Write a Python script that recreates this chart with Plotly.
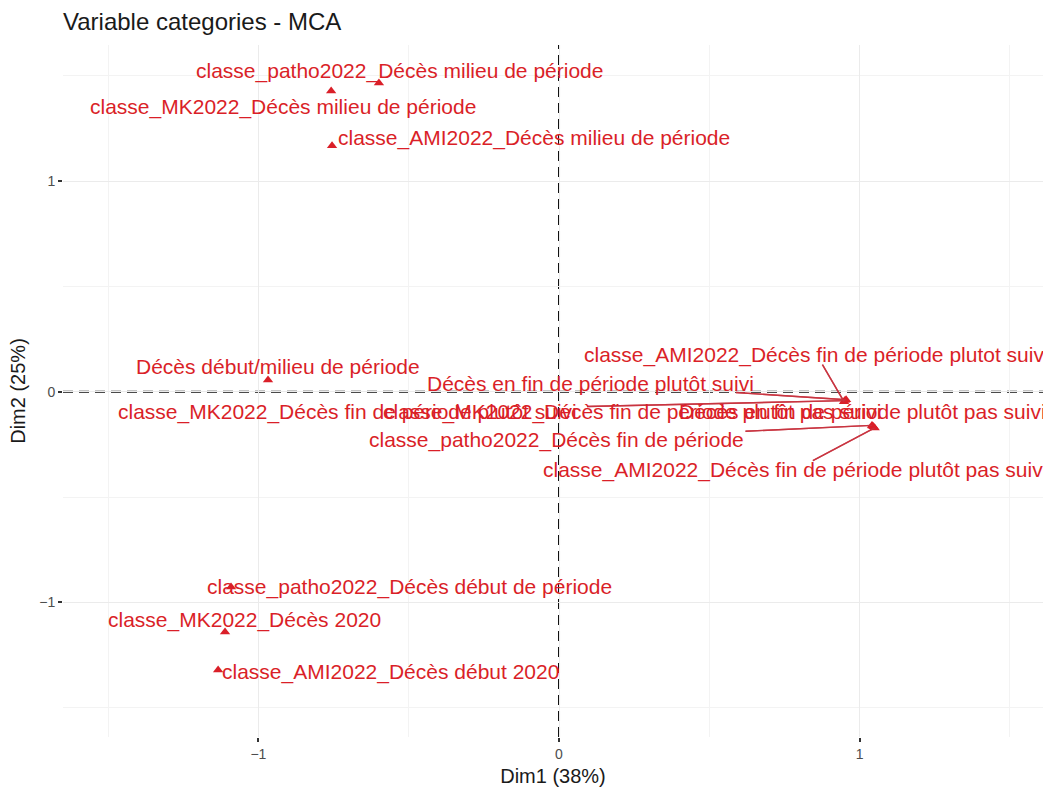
import plotly.graph_objects as go

# MCA coordinates of the variable categories
categories = [
    "classe_patho2022_Décès milieu de période",
    "classe_MK2022_Décès milieu de période",
    "classe_AMI2022_Décès milieu de période",
    "Décès début/milieu de période",
    "classe_patho2022_Décès début de période",
    "classe_MK2022_Décès 2020",
    "classe_AMI2022_Décès début 2020",
    "classe_AMI2022_Décès fin de période plutot suivi",
    "Décès en fin de période plutôt suivi",
    "classe_MK2022_Décès fin de période plutôt suivi",
    "classe_MK2022_Décès fin de période plutôt pas suivi",
    "Décès en fin de période plutôt pas suivi",
    "classe_patho2022_Décès fin de période",
    "classe_AMI2022_Décès fin de période plutôt pas suivi",
]
dim1 = [-0.599, -0.758, -0.755, -0.968, -1.091, -1.111, -1.134,
        0.948, 0.955, 0.951, 1.046, 1.043, 1.041, 1.050]
dim2 = [1.466, 1.428, 1.168, 0.056, -0.928, -1.141, -1.322,
        -0.047, -0.038, -0.042, -0.166, -0.163, -0.160, -0.172]

# repelled label positions (data units) and whether a leader segment is drawn
label_x = [-0.532, -0.918, -0.083, -0.936, -0.496, -1.045, -0.559,
           0.858, 0.106, -0.705, 0.243, 1.011, -0.010, 0.785]
label_y = [1.523, 1.352, 1.205, 0.122, -0.928, -1.084, -1.331,
           0.174, 0.041, -0.096, -0.096, -0.096, -0.229, -0.372]
leader = [False, False, False, False, False, False, False,
          True, True, True, False, False, True, True]

x_ticks = [-1, 0, 1]
y_ticks = [-1, 0, 1]

RED = "#DA1F28"
SEGMENT = "rgba(200,50,62,0.9)"
FONT = "Liberation Sans, Arial, Helvetica, sans-serif"
LABEL_SIZE = 21

W, H = 1043, 791
MARGIN = dict(l=63, r=0, t=45, b=54)
X_RANGE = [-1.65, 1.61]
Y_RANGE = [-1.64, 1.647]

# pixels per data unit, used to stop leader segments at the label's box
px_x = (W - MARGIN["l"] - MARGIN["r"]) / (X_RANGE[1] - X_RANGE[0])
px_y = (H - MARGIN["t"] - MARGIN["b"]) / (Y_RANGE[1] - Y_RANGE[0])

shapes = [
    dict(type="line", xref="x", yref="paper", x0=0, x1=0, y0=0, y1=1,
         line=dict(color="#111111", width=2, dash="10px,6px"), layer="below"),
    dict(type="line", xref="paper", yref="y", x0=0, x1=1, y0=0, y1=0,
         line=dict(color="#111111", width=2, dash="10px,6px"), layer="below"),
]

# leader segments from the edge of each displaced label to its point
seg_x, seg_y = [], []
for name, px, py, lx, ly, seg in zip(categories, dim1, dim2, label_x, label_y, leader):
    if not seg:
        continue
    dx = (px - lx) * px_x
    dy = (py - ly) * px_y
    half_w = len(name) * LABEL_SIZE * 0.48 / 2 + 3
    half_h = LABEL_SIZE * 0.45
    t = min(half_w / abs(dx) if dx else 1e9, half_h / abs(dy) if dy else 1e9)
    x0, y0 = lx + (px - lx) * t, ly + (py - ly) * t
    shapes.append(dict(
        type="line", xref="x", yref="y", x0=x0, y0=y0, x1=px, y1=py,
        line=dict(color=SEGMENT, width=1.4), layer="above",
    ))
    seg_x += [x0, px, None]
    seg_y += [y0, py, None]

fig = go.Figure()
fig.add_trace(go.Scatter(
    x=seg_x, y=seg_y, mode="lines",
    line=dict(color=SEGMENT, width=1.4, simplify=False),
    connectgaps=False, hoverinfo="skip", showlegend=False,
))
fig.add_trace(go.Scatter(
    x=dim1, y=dim2, mode="markers",
    marker=dict(symbol="triangle-up", size=9, color=RED),
    hoverinfo="text", hovertext=categories, showlegend=False,
))

annotations = [
    dict(x=lx, y=ly, xref="x", yref="y", text=name, showarrow=False,
         font=dict(family=FONT, size=LABEL_SIZE, color=RED))
    for name, lx, ly in zip(categories, label_x, label_y)
]

axis_common = dict(
    showgrid=True, gridcolor="#EBEBEB", gridwidth=1.1,
    minor=dict(showgrid=True, gridcolor="#F3F3F3", gridwidth=0.8, dtick=0.5),
    zeroline=False, showline=False,
    ticks="outside", ticklen=4, tickwidth=1.5, tickcolor="#333333",
    tickfont=dict(family=FONT, size=14, color="#4D4D4D"),
    dtick=1,
)

fig.update_layout(
    width=W, height=H,
    margin=MARGIN,
    paper_bgcolor="white", plot_bgcolor="white",
    title=dict(text="Variable categories - MCA", x=63 / W, xref="container",
               xanchor="left", y=1 - 22 / H, yref="container", yanchor="middle",
               font=dict(family=FONT, size=24, color="#1A1A1A")),
    xaxis=dict(axis_common, range=X_RANGE, tickvals=x_ticks,
               title=dict(text="Dim1 (38%)", standoff=8,
                          font=dict(family=FONT, size=20, color="#1A1A1A"))),
    yaxis=dict(axis_common, range=Y_RANGE, tickvals=y_ticks,
               title=dict(text="Dim2 (25%)", standoff=8,
                          font=dict(family=FONT, size=20, color="#1A1A1A"))),
    annotations=annotations,
    shapes=shapes,
)

fig.write_html("out.html")
